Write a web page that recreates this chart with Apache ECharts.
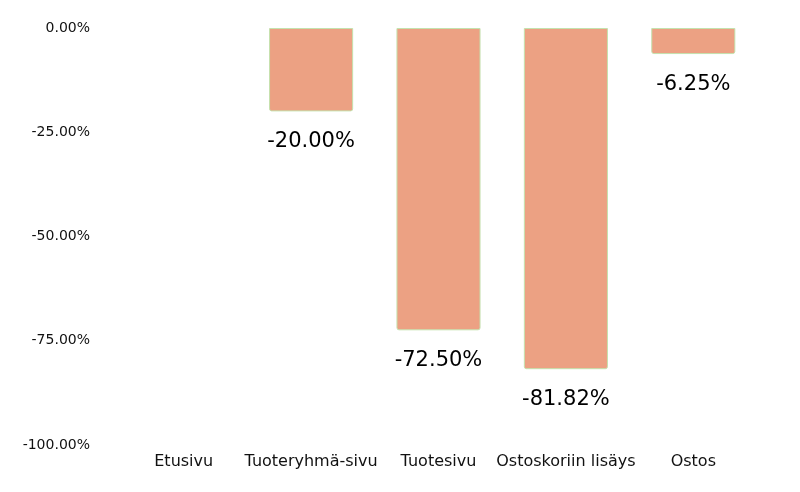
<!DOCTYPE html>
<html>
<head>
<meta charset="utf-8">
<script src="https://cdn.jsdelivr.net/npm/echarts@6/dist/echarts.min.js"></script>
<style>html,body{margin:0;padding:0;background:#fff}#c{width:800px;height:492px}</style>
</head>
<body>
<div id="c"></div>
<script>
var categories = ['Etusivu', 'Tuoteryhmä-sivu', 'Tuotesivu', 'Ostoskoriin lisäys', 'Ostos'];
var dropValues = [null, -20.00, -72.50, -81.82, -6.25];
var yTicks = { min: -100, max: 0, interval: 25 };

var chart = echarts.init(document.getElementById('c'));
chart.setOption({
  animation: false,
  textStyle: { fontFamily: 'DejaVu Sans' },
  grid: { left: 120, right: 43, top: 28, bottom: 47 },
  xAxis: {
    type: 'category',
    data: categories,
    axisLine: { show: false },
    axisTick: { show: false },
    axisLabel: { color: '#111', fontSize: 16, margin: 9, interval: 0, fontFamily: 'DejaVu Sans' }
  },
  yAxis: {
    type: 'value',
    min: yTicks.min, max: yTicks.max, interval: yTicks.interval,
    axisLine: { show: false },
    axisTick: { show: false },
    splitLine: { show: false },
    axisLabel: {
      color: '#111', fontSize: 14, margin: 30, fontFamily: 'DejaVu Sans',
      formatter: function (v) { return v.toFixed(2) + '%'; }
    }
  },
  series: [{
    type: 'bar',
    data: dropValues,
    barWidth: '66%',
    itemStyle: {
      color: '#eca183',
      borderColor: '#c4e2ae',
      borderWidth: 1,
      borderRadius: [0, 0, 2, 2]
    },
    label: {
      show: true,
      position: 'bottom',
      distance: 20,
      color: '#000',
      fontSize: 21,
      fontFamily: 'DejaVu Sans',
      formatter: function (p) { return p.value == null ? '' : p.value.toFixed(2) + '%'; }
    }
  }]
});
</script>
</body>
</html>
